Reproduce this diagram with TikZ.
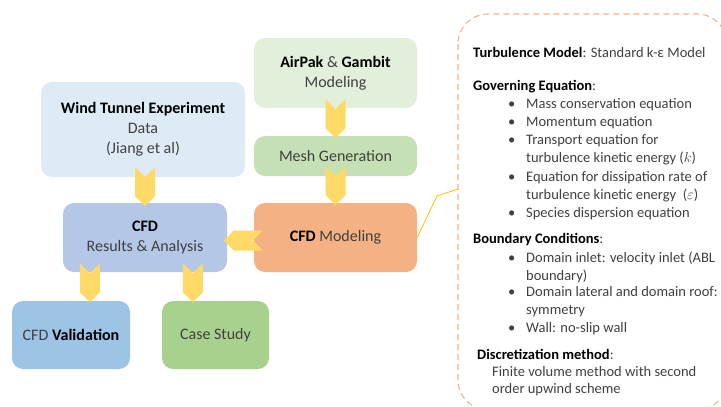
\documentclass[tikz,border=0pt]{standalone}
\usepackage{fontspec}
\setmainfont{Carlito}
\usetikzlibrary{calc}
\definecolor{airgreen}{HTML}{E2EFDA}
\definecolor{meshgreen}{HTML}{C5E0B4}
\definecolor{windblue}{HTML}{DEEAF6}
\definecolor{resblue}{HTML}{B4C7E7}
\definecolor{validblue}{HTML}{9DC3E6}
\definecolor{casegreen}{HTML}{A9D18E}
\definecolor{modelorange}{HTML}{F4B183}
\definecolor{chevgold}{HTML}{FFD966}
\definecolor{calloutgold}{HTML}{FFC000}
\definecolor{txtgray}{HTML}{404040}
\newcommand{\bfk}[1]{\textcolor{black}{\textbf{#1}}}
\tikzset{
  box/.style={rounded corners=11pt, inner sep=0pt, align=center, text=txtgray,
    font=\fontsize{16}{20}\selectfont},
  item/.style={anchor=base west, inner sep=0pt, text=txtgray,
    font=\fontsize{14.5}{17}\selectfont},
  chev/.pic={\fill[chevgold] (0,-10) -- (10,0) -- (0,10) -- (29,10) -- (39,0) -- (29,-10) -- cycle;},
  callout/.style={calloutgold, line width=0.8pt},
  panel/.style={modelorange, line width=1.1pt, dash pattern=on 6pt off 4pt, rounded corners=30pt}
}

\begin{document}
\begin{tikzpicture}[x=1pt,y=-1pt]
  \useasboundingbox (0,0) rectangle (721,407);

  % boxes
  \node[box, fill=airgreen, minimum width=163pt, minimum height=70pt] (airpak) at (335.5,73) {\bfk{AirPak} \& \bfk{Gambit}\\Modeling};
  \node[box, fill=windblue, minimum width=204pt, minimum height=95pt] (wind) at (143,129.5) {\bfk{Wind Tunnel Experiment}\\Data\\(Jiang et al)};
  \node[box, fill=meshgreen, minimum width=163pt, minimum height=40pt] (mesh) at (335.5,156) {Mesh Generation};
  \node[box, fill=modelorange, minimum width=163pt, minimum height=69pt] (model) at (335.5,237.5) {\bfk{CFD} Modeling};
  \node[box, fill=resblue, minimum width=164pt, minimum height=69pt] (res) at (145,237.5) {\bfk{CFD}\\Results \& Analysis};
  \node[box, fill=validblue, minimum width=118pt, minimum height=68pt] (valid) at (71,335) {CFD \bfk{Validation}};
  \node[box, fill=casegreen, minimum width=107pt, minimum height=68pt] (case) at (215.5,335) {Case Study};

  % chevrons
  \pic[rotate=-90] at ($(airpak.south)+(0,-9)$) {chev};
  \pic[rotate=-90] at ($(wind.south)+(2,-10)$) {chev};
  \pic[rotate=-90] at ($(mesh.south)+(0,-10)$) {chev};
  \pic[rotate=-90] at ($(res.south west)+(27,-9)$) {chev};
  \pic[rotate=-90] at ($(res.south west)+(130,-9)$) {chev};
  \pic[rotate=180] at ($(model.west)+(9,3)$) {chev};

  % callout
  \coordinate (bend) at (437,196);
  \coordinate (callpt) at (458,189);
  \draw[callout] (model.east) -- (bend) -- (callpt);
  \draw[panel] (458,14) rectangle (727,410);

  % settings text
  \node[item] (turb) at (473,57) {\bfk{Turbulence Model}: Standard k-ε Model};
  \node[item] (gov) at (473,90) {\bfk{Governing Equation}:};
  \node[item] (bc) at (473,243) {\bfk{Boundary Conditions}:};
  \node[item] (disc) at (477,359) {\bfk{Discretization method}:};
  \node[item] (fin1) at (492,376) {Finite volume method with second};
  \node[item] (fin2) at (492,393) {order upwind scheme};
  \foreach \yy/\txt [count=\i] in {103/{Mass conservation equation}, 121/{Momentum equation},
      139/{Transport equation for}, 176/{Equation for dissipation rate of},
      212/{Species dispersion equation}, 257/{Domain inlet: velocity inlet (ABL},
      291/{Domain lateral and domain roof:}, 327/{Wall: no-slip wall}}
    {\node[item] (bul\i) at (508,\yy+5) {\textbullet};
     \node[item] (it\i) at (526,\yy+5) {\txt};}
  \foreach \yy/\txt [count=\i] in {157/{turbulence kinetic energy ($k$)},
      194/{turbulence kinetic energy~~($\varepsilon$)}, 275/{boundary)}, 309/{symmetry}}
    \node[item] (cont\i) at (526,\yy+5) {\txt};
\end{tikzpicture}
\end{document}
